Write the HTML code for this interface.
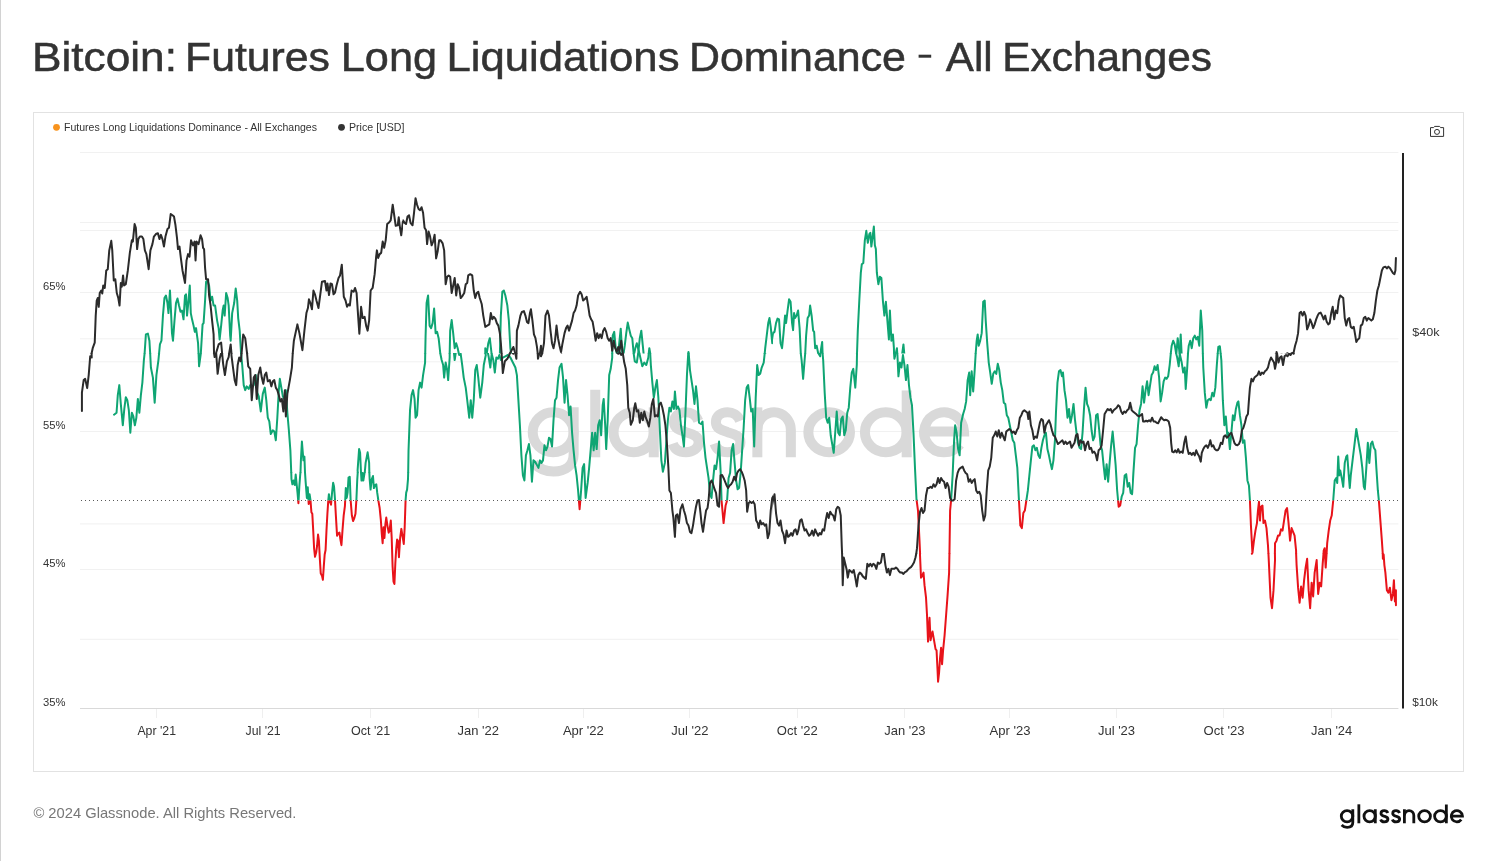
<!DOCTYPE html><html><head><meta charset="utf-8"><title>Bitcoin: Futures Long Liquidations Dominance - All Exchanges</title>
<style>html,body{margin:0;padding:0;background:#fff;}body{width:1495px;height:861px;overflow:hidden;font-family:"Liberation Sans",sans-serif;}svg{display:block;font-family:"Liberation Sans",sans-serif;will-change:transform;}</style></head><body>
<svg width="1495" height="861" viewBox="0 0 1495 861">
<defs>
<clipPath id="t0"><rect x="30" y="140" width="373" height="213.5"/></clipPath>
<clipPath id="t1"><rect x="30" y="353" width="253.5" height="213"/><rect x="283" y="353" width="120" height="119.5"/></clipPath>
<clipPath id="t2"><rect x="283" y="472" width="195" height="128"/></clipPath>
<clipPath id="t3"><rect x="402.5" y="140" width="370.5" height="213.5"/></clipPath>
<clipPath id="t4"><rect x="402.5" y="353" width="76" height="119.5"/><rect x="478" y="353" width="295" height="213"/></clipPath>
<clipPath id="t5"><rect x="772.5" y="140" width="360" height="213.5"/></clipPath>
<clipPath id="t6"><rect x="772.5" y="353" width="360" height="200.5"/></clipPath>
<clipPath id="t7"><rect x="772.5" y="553" width="360" height="203"/></clipPath>
<clipPath id="t8"><rect x="1132" y="140" width="363" height="213.5"/></clipPath>
<clipPath id="t9"><rect x="1132" y="353" width="363" height="200.5"/></clipPath>
<clipPath id="t10"><rect x="1132" y="553" width="363" height="203"/></clipPath>
<clipPath id="up"><rect x="0" y="0" width="1495" height="500.5"/></clipPath>
<clipPath id="dn"><rect x="0" y="500.5" width="1495" height="400"/></clipPath>
<g id="logo" fill="none" stroke-width="29" stroke-linecap="butt" stroke-linejoin="round">
<ellipse cx="175.75" cy="219" rx="59.25" ry="58"/>
<path d="M235 147 V283 C235 316 210 333 177 333 C155 333 136 326 120 309"/>
<path d="M297.5 96 V291.6"/>
<ellipse cx="408.75" cy="219" rx="58.25" ry="58"/>
<path d="M467 147 V291.6"/>
<path d="M596,186 C589,168 574,161 560,161 C540,161 526,172 526,190 C526,210 546,214 560,219 C576,224 597,228 597,248 C597,266 580,277 560,277 C542,277 528,270 522,252"/>
<path d="M717,186 C710,168 695,161 681,161 C661,161 647,172 647,190 C647,210 667,214 681,219 C697,224 718,228 718,248 C718,266 701,277 681,277 C663,277 649,270 643,252"/>
<path d="M767 147 V291.6"/>
<path d="M767 212 A48.5 51 0 0 1 864 212 V291.6"/>
<ellipse cx="975" cy="219" rx="60.3" ry="58"/>
<ellipse cx="1139" cy="219" rx="60.5" ry="58"/>
<path d="M1199.5 98 V291.6"/>
<path d="M1251 217 H1365.5 A57.8 58 0 1 0 1353.5 254.7" stroke-linejoin="miter"/>
</g>
</defs>
<rect width="1495" height="861" fill="#fff"/>
<rect x="0" y="0" width="1" height="861" fill="#d2d2d2"/>
<text x="32" y="70.9" font-size="40" fill="#333" stroke="#333" stroke-width="0.5" textLength="145" lengthAdjust="spacingAndGlyphs">Bitcoin:</text>
<text x="185" y="70.9" font-size="40" fill="#333" stroke="#333" stroke-width="0.5" textLength="145" lengthAdjust="spacingAndGlyphs">Futures</text>
<text x="340.8" y="70.9" font-size="40" fill="#333" stroke="#333" stroke-width="0.5" textLength="96.2" lengthAdjust="spacingAndGlyphs">Long</text>
<text x="446.4" y="70.9" font-size="40" fill="#333" stroke="#333" stroke-width="0.5" textLength="233.1" lengthAdjust="spacingAndGlyphs">Liquidations</text>
<text x="688.9" y="70.9" font-size="40" fill="#333" stroke="#333" stroke-width="0.5" textLength="217.1" lengthAdjust="spacingAndGlyphs">Dominance</text>
<text x="945.8" y="70.9" font-size="40" fill="#333" stroke="#333" stroke-width="0.5" textLength="46.8" lengthAdjust="spacingAndGlyphs">All</text>
<text x="1002.3" y="70.9" font-size="40" fill="#333" stroke="#333" stroke-width="0.5" textLength="209.7" lengthAdjust="spacingAndGlyphs">Exchanges</text>
<rect x="918.6" y="54.7" width="12.6" height="3" fill="#333"/>
<rect x="33.5" y="112.5" width="1430" height="659" fill="#fff" stroke="#e2e2e2" stroke-width="1"/>
<circle cx="56.5" cy="127.3" r="3.4" fill="#f8931d"/>
<text x="64" y="130.8" font-size="10.3" fill="#333" textLength="253" lengthAdjust="spacingAndGlyphs">Futures Long Liquidations Dominance - All Exchanges</text>
<circle cx="341.5" cy="127.3" r="3.4" fill="#333"/>
<text x="349" y="130.8" font-size="10.3" fill="#333" textLength="55.5" lengthAdjust="spacingAndGlyphs">Price [USD]</text>
<g fill="none" stroke="#333" stroke-width="1"><path d="M1430.5 127.6 H1433.6 L1434.6 126.4 H1439.6 L1440.6 127.6 H1443.6 V136.4 H1430.5 Z"/><circle cx="1437" cy="131.9" r="2.5"/></g>
<rect x="80" y="152" width="1318.4" height="1" fill="#f1f1f1"/>
<rect x="80" y="222" width="1318.4" height="1" fill="#f1f1f1"/>
<rect x="80" y="230" width="1318.4" height="1" fill="#f1f1f1"/>
<rect x="80" y="292" width="1318.4" height="1" fill="#f1f1f1"/>
<rect x="80" y="338.3" width="1318.4" height="1" fill="#f1f1f1"/>
<rect x="80" y="361.3" width="1318.4" height="1" fill="#f1f1f1"/>
<rect x="80" y="431" width="1318.4" height="1" fill="#f1f1f1"/>
<rect x="80" y="523.4" width="1318.4" height="1" fill="#f1f1f1"/>
<rect x="80" y="569" width="1318.4" height="1" fill="#f1f1f1"/>
<rect x="80" y="638.8" width="1318.4" height="1" fill="#f1f1f1"/>
<rect x="80" y="708" width="1318.4" height="1" fill="#d9d9d9"/>
<line x1="81" y1="500.5" x2="1398" y2="500.5" stroke="#5a5a5a" stroke-width="1" stroke-dasharray="1 3"/>
<rect x="156" y="709" width="1" height="9" fill="#efefef"/>
<text x="137.4" y="735" font-size="12.2" fill="#333" textLength="38.6" lengthAdjust="spacingAndGlyphs">Apr '21</text>
<rect x="262" y="709" width="1" height="9" fill="#efefef"/>
<text x="245.55" y="735" font-size="12.2" fill="#333" textLength="35.1" lengthAdjust="spacingAndGlyphs">Jul '21</text>
<rect x="370" y="709" width="1" height="9" fill="#efefef"/>
<text x="350.9" y="735" font-size="12.2" fill="#333" textLength="39.4" lengthAdjust="spacingAndGlyphs">Oct '21</text>
<rect x="478" y="709" width="1" height="9" fill="#efefef"/>
<text x="457.5" y="735" font-size="12.2" fill="#333" textLength="41.4" lengthAdjust="spacingAndGlyphs">Jan '22</text>
<rect x="583" y="709" width="1" height="9" fill="#efefef"/>
<text x="562.9" y="735" font-size="12.2" fill="#333" textLength="41" lengthAdjust="spacingAndGlyphs">Apr '22</text>
<rect x="689" y="709" width="1" height="9" fill="#efefef"/>
<text x="671.2" y="735" font-size="12.2" fill="#333" textLength="37.2" lengthAdjust="spacingAndGlyphs">Jul '22</text>
<rect x="797" y="709" width="1" height="9" fill="#efefef"/>
<text x="776.85" y="735" font-size="12.2" fill="#333" textLength="40.9" lengthAdjust="spacingAndGlyphs">Oct '22</text>
<rect x="904" y="709" width="1" height="9" fill="#efefef"/>
<text x="884.2" y="735" font-size="12.2" fill="#333" textLength="41.4" lengthAdjust="spacingAndGlyphs">Jan '23</text>
<rect x="1009" y="709" width="1" height="9" fill="#efefef"/>
<text x="989.6" y="735" font-size="12.2" fill="#333" textLength="41" lengthAdjust="spacingAndGlyphs">Apr '23</text>
<rect x="1116" y="709" width="1" height="9" fill="#efefef"/>
<text x="1097.9" y="735" font-size="12.2" fill="#333" textLength="37.2" lengthAdjust="spacingAndGlyphs">Jul '23</text>
<rect x="1223" y="709" width="1" height="9" fill="#efefef"/>
<text x="1203.5" y="735" font-size="12.2" fill="#333" textLength="41" lengthAdjust="spacingAndGlyphs">Oct '23</text>
<rect x="1331" y="709" width="1" height="9" fill="#efefef"/>
<text x="1311" y="735" font-size="12.2" fill="#333" textLength="41.2" lengthAdjust="spacingAndGlyphs">Jan '24</text>
<text x="43" y="290" font-size="11.3" fill="#333" textLength="22.5" lengthAdjust="spacingAndGlyphs">65%</text>
<text x="43" y="429" font-size="11.3" fill="#333" textLength="22.5" lengthAdjust="spacingAndGlyphs">55%</text>
<text x="43" y="567" font-size="11.3" fill="#333" textLength="22.5" lengthAdjust="spacingAndGlyphs">45%</text>
<text x="43" y="706" font-size="11.3" fill="#333" textLength="22.5" lengthAdjust="spacingAndGlyphs">35%</text>
<text x="1412.2" y="336" font-size="11.3" fill="#333" textLength="27.3" lengthAdjust="spacingAndGlyphs">$40k</text>
<text x="1412.2" y="706" font-size="11.3" fill="#333" textLength="25.7" lengthAdjust="spacingAndGlyphs">$10k</text>
<use href="#logo" stroke="#d9d9d9" transform="translate(492.5,356.6) scale(0.3453)"/>
<g clip-path="url(#up)"><g fill="none" stroke="#0fa573" stroke-width="2" stroke-linejoin="round" stroke-linecap="round"><g clip-path="url(#t0)"><polyline points="144.13,355.72 144.62,353.25 145.89,334.40 147.89,333.65 149.40,340.67 150.17,353.25 150.90,355.72"/><polyline points="157.93,355.72 159.08,353.25 159.93,344.43 161.44,340.67 162.94,315.59 164.45,298.03 165.95,295.52 167.46,303.04 168.46,313.08 169.97,290.50 170.97,310.57 171.97,333.14 172.98,340.67 174.48,320.60 175.99,303.04 177.49,298.53 179.00,305.55 180.50,311.82 182.01,310.57 183.51,319.35 185.02,295.52 186.02,294.26 187.02,315.59 188.53,300.54 189.78,285.48 190.79,313.08 192.04,319.35 193.55,325.62 194.80,331.89 196.05,328.13 198.06,343.18 198.56,353.25 199.57,355.72"/><polyline points="201.07,355.72 200.84,353.25 202.58,324.36 203.58,323.11 205.08,300.54 206.09,281.72 207.59,280.47 209.10,285.48 210.60,300.54 212.11,296.77 213.61,305.55 215.12,305.55 217.12,320.60 218.63,328.13 219.63,339.41 221.14,325.62 222.64,310.57 223.65,305.55 224.65,315.59 226.15,293.01 227.66,298.03 228.66,305.55 230.17,335.65 230.67,340.67 232.17,313.08 234.18,303.04 235.69,288.49 237.19,300.54 238.19,318.09 239.70,330.64 241.04,353.25 241.20,355.72"/></g><g clip-path="url(#t1)"><polyline points="114.03,414.72 116.54,412.71 117.79,395.15 119.30,385.12 120.80,403.93 122.81,425.25 124.31,408.95 125.82,397.16 127.32,400.17 128.83,410.20 130.33,432.78 131.84,412.71 133.34,416.47 134.85,425.25 136.35,417.73 137.86,398.91 139.36,412.71 140.87,395.15 142.37,382.61 143.88,360.03 144.62,353.25 145.38,350.00"/><polyline points="149.40,350.00 150.17,353.25 150.90,367.56 152.91,377.59 154.67,402.68 156.42,375.08 158.43,360.03 159.08,353.25 160.43,350.00"/><polyline points="197.56,350.00 198.56,353.25 199.06,366.30 200.84,353.25 200.57,352.51 201.57,350.00"/><polyline points="240.70,350.00 241.04,353.25 242.21,365.05 243.71,385.12 245.22,390.13 246.72,386.37 248.73,388.88 250.23,385.12 251.74,387.63 253.75,385.12 255.75,375.08 257.26,392.64 258.76,396.40 260.77,411.45 262.78,393.90 264.78,387.63 266.29,400.17 267.79,417.73 269.30,421.49 270.80,434.03 272.81,430.27 274.31,431.52 275.82,440.30 277.32,417.73 278.83,390.13 279.83,378.85 281.34,387.63 282.84,396.40 284.35,398.91 285.85,390.13 287.36,412.71 288.86,430.27 290.37,450.33 291.24,472.25 291.87,475.42 292.88,482.94 294.38,474.16 295.89,486.71 297.89,500.50 298.39,503.01 299.40,490.47 300.50,472.25 300.90,460.37 301.91,441.56 303.41,460.37 304.41,456.61 304.99,472.25 305.92,482.94 306.92,495.48 307.93,486.71 308.93,497.99 309.93,494.23 310.43,500.50 311.94,510.54 312.94,514.30 314.45,543.14 315.45,555.69 316.96,540.64 318.46,534.36 319.97,550.67 320.97,565.72"/><polyline points="322.98,565.72 324.48,550.67 325.99,525.59 327.49,505.52 328.49,494.23 330.00,500.50 331.00,497.99 332.01,491.72 333.51,482.94 335.02,492.98 336.02,505.52 337.53,534.36 339.03,531.86 340.54,539.38 341.54,544.40 343.04,530.60 344.55,510.54 346.05,490.47 347.06,486.71 348.06,492.98 349.06,477.42 350.07,479.18 351.07,510.54 352.58,520.57 353.58,521.82 355.08,515.55 356.59,500.50 357.75,472.25 357.59,470.40 359.10,449.08 360.10,452.84 360.98,472.25 361.61,480.43 363.11,472.91 364.11,480.43 364.79,472.25 365.62,462.88 367.63,452.34 369.13,462.88 369.32,472.25 370.64,489.21 372.14,475.42 373.65,484.20 375.15,486.71 376.15,485.45 377.66,500.50 379.16,508.03 380.67,520.57 382.17,541.89 383.68,525.59 384.68,538.13 386.19,516.81 387.69,530.60 389.20,533.11 390.70,520.57 392.21,550.67 393.71,565.72"/><polyline points="395.22,565.72 396.72,540.64 398.23,556.94 399.73,540.64 401.24,529.35 402.74,543.14 404.25,497.99 405.00,490.47"/></g><g clip-path="url(#t2)"><polyline points="290.57,470.00 291.24,472.25 291.47,479.06 292.38,484.34 293.58,480.57 294.79,485.09 295.70,474.53 296.60,483.58 297.51,492.64 298.42,503.21 299.32,486.60 300.23,474.53 300.50,472.25 301.13,470.00"/><polyline points="304.45,470.00 304.99,472.25 305.66,482.08 306.87,497.92 307.77,487.36 308.68,503.96 309.58,494.15 310.49,500.19 311.40,512.26 312.30,513.77 313.21,530.38 314.11,548.49 315.02,556.79 316.23,552.26 317.13,545.47 318.04,534.60 318.94,540.94 319.85,559.06 320.75,573.40 321.96,575.66 322.87,579.89 323.77,566.60 324.68,554.53 325.58,550.00 326.49,530.38 327.40,513.77 328.30,500.19 328.91,494.15 329.81,500.94 331.02,504.72 331.92,494.15 333.13,482.83 334.04,486.60 334.94,498.68 335.85,515.28 337.06,535.66 338.26,533.40 339.47,532.64 340.38,539.43 341.43,545.17 342.49,530.38 343.70,515.28 344.91,506.23 345.81,488.11 346.72,497.92 347.62,492.64 348.53,477.55 349.74,476.79 350.64,500.19 351.85,515.28 353.06,521.02 354.26,518.30 355.47,513.77 356.38,500.19 357.28,479.06 357.75,472.25 358.19,470.00"/><polyline points="360.60,470.00 360.98,472.25 361.51,480.57 362.42,473.02 363.32,480.57 364.53,473.02 364.79,472.25 365.43,470.00"/><polyline points="368.75,470.00 369.32,472.25 369.66,479.06 370.57,489.62 371.77,479.06 372.98,476.04 373.89,488.11 375.09,485.09 376.30,484.34 377.21,492.64 378.42,500.94 379.62,507.74 380.83,519.81 381.74,533.40 382.64,543.21 383.55,527.36 384.45,537.92 385.36,524.34 386.26,517.55 387.47,525.85 388.68,532.64 389.58,530.38 390.79,520.57 391.70,537.92 392.60,566.60 393.51,581.70 394.42,583.96 395.32,563.58 396.23,548.49 397.13,539.43 398.04,540.94 398.94,557.25 400.15,537.92 401.36,528.87 402.57,536.42 403.77,543.96 404.68,527.36 405.58,500.19 406.19,492.64 407.09,489.62 408.00,479.06 408.19,472.25 408.91,470.00"/></g><g clip-path="url(#t3)"><polyline points="424.08,355.72 425.23,353.25 425.59,335.65 426.59,303.04 428.09,295.52 429.60,325.62 431.10,328.13 432.61,323.11 434.11,308.56 435.62,333.14 437.12,331.89 438.63,338.16 440.27,353.25 440.13,355.72"/><polyline points="448.66,355.72 449.67,353.25 450.17,330.64 451.67,320.10 453.18,333.14 454.68,348.19 456.19,343.18 457.69,348.19 458.77,353.25 459.20,355.72"/><polyline points="483.78,355.72 485.29,353.25 485.28,348.19 486.79,353.21 488.29,343.18 489.80,338.16 491.52,353.25 491.30,355.72"/><polyline points="499.83,355.72 500.84,315.59 502.34,291.76 503.85,290.50 505.35,295.52 507.36,305.55 508.86,320.60 510.37,348.19 511.37,355.72"/><polyline points="611.20,355.72 612.23,353.25 612.71,335.65 614.21,331.89 615.72,348.19 617.22,355.72"/><polyline points="617.22,355.72 618.73,348.19 620.74,328.63 622.24,353.21 623.24,355.72"/><polyline points="623.24,355.72 624.75,345.69 626.25,333.14 627.76,322.61 629.26,329.38 630.77,335.65 632.27,338.16 633.64,353.25 633.78,355.72"/><polyline points="633.78,355.72 635.28,348.19 636.79,343.18 639.35,353.25 638.29,355.72"/><polyline points="638.29,355.72 638.21,353.25 639.80,338.16 641.30,330.64 642.81,345.69 643.81,355.72"/><polyline points="647.83,355.72 648.75,353.25 649.33,348.19 650.20,353.25 650.84,355.72"/><polyline points="687.46,355.72 688.23,353.25 688.46,351.96 688.71,353.25 689.46,355.72"/><polyline points="763.21,355.72 764.72,353.25 765.22,348.19 766.72,335.65 768.23,323.11 769.48,318.09 770.74,326.87 772.24,343.18 773.75,331.89 775.00,331.14"/></g><g clip-path="url(#t4)"><polyline points="400.00,530.60 401.51,528.09 403.01,543.14 404.52,520.57 405.52,500.50 407.02,490.47 408.19,472.25 408.53,450.33 410.03,410.20 411.54,395.15 413.04,390.13 414.55,398.91 415.55,417.73 417.06,415.22 418.56,390.13 420.07,382.61 421.57,387.63 423.08,375.08 425.08,362.54 425.23,353.25 426.59,350.00"/><polyline points="440.13,350.00 440.27,353.25 441.64,360.03 443.14,365.05 444.15,377.59 445.65,362.54 447.16,370.07 448.16,380.10 449.67,357.53 449.67,353.25 451.17,350.00"/><polyline points="453.68,350.00 454.68,360.03 456.19,350.00"/><polyline points="458.19,350.00 458.77,353.25 459.20,355.02 460.70,353.76 462.21,365.05 463.71,377.59 465.72,387.63 467.22,400.17 469.23,417.73 470.74,400.17 472.24,417.73 473.75,400.17 475.25,370.07 476.76,365.05 478.26,377.59 480.27,397.66 482.27,382.61 483.78,365.05 485.79,355.02 485.29,353.25 487.29,350.00"/><polyline points="487.29,350.00 488.80,357.53 490.30,367.56 491.81,352.51 491.52,353.25 493.31,360.03 494.82,372.58 496.32,357.53 497.83,358.78 499.33,355.02 500.84,360.03 502.84,357.53 505.35,356.27 507.86,355.02 510.37,357.53 512.88,362.54 515.38,367.56 516.89,375.08 518.39,400.17 519.90,425.25 521.40,455.35 522.91,475.42 524.41,480.43 525.92,455.35 527.42,450.33 528.93,444.06 530.43,455.35 531.94,481.69 533.44,460.37 534.95,461.62 536.45,464.13 538.46,467.89 539.97,460.37 541.47,462.88 542.98,460.37 544.48,445.32 545.99,450.33 547.49,446.57 549.00,437.79 550.50,439.05 552.01,446.57 553.51,420.23 555.02,400.17 556.52,397.66 558.03,380.10 559.53,367.56 561.54,363.80 563.04,377.59 564.55,402.68 566.05,380.10 567.56,395.15 569.06,415.22 570.57,406.44 572.07,432.78 573.58,450.33 575.08,465.38 576.59,475.42 578.09,490.47 579.60,509.28 581.10,490.47 582.61,467.89 584.11,464.13 585.62,497.99 587.63,482.94 589.13,467.89 590.64,450.33 592.14,432.78 593.65,450.33 595.15,432.78 596.66,449.08 598.16,425.25 599.67,420.23 601.17,435.28 602.68,405.18 603.68,398.91 605.18,425.25 606.19,449.08 607.69,420.23 609.20,375.08 610.70,368.81 612.21,357.53 612.23,353.25 613.71,350.00"/><polyline points="633.28,350.00 633.64,353.25 634.78,361.29 636.79,362.54 638.21,353.25 638.29,350.00"/><polyline points="640.30,350.00 639.35,353.25 642.31,366.30 644.31,362.54 646.32,365.05 648.33,357.53 648.75,353.25 649.83,350.00"/><polyline points="649.83,350.00 650.20,353.25 650.84,365.05 652.34,382.61 653.85,397.66 655.35,387.63 656.86,380.10 658.36,397.66 659.87,430.27 661.37,460.37 662.88,471.66 664.88,462.88 666.39,440.30 667.89,420.23 669.40,407.69 670.90,411.45 672.41,401.42 673.91,408.95 674.92,391.39 676.42,408.95 677.93,406.44 679.43,410.20 680.94,425.25 682.44,435.28 683.95,446.57 685.45,412.71 686.96,375.08 688.23,353.25 688.46,351.25 688.71,353.25 689.97,370.07 691.47,380.10 692.98,390.13 694.48,403.93 695.99,386.37 697.49,400.17 699.00,422.74 701.00,424.00 702.51,421.49 704.01,442.81 705.52,457.86 707.02,467.89 708.53,477.93 710.03,494.23 711.54,497.99 713.04,480.43 714.55,465.38 716.05,469.15 717.56,457.86 719.06,441.56 720.57,470.40 721.57,500.50 723.58,523.08 725.59,505.52 727.09,500.50 728.60,477.93 730.10,472.91 731.61,450.33 733.11,444.06 734.62,462.88 736.12,480.43 737.63,489.21 739.13,487.96 740.64,472.91 742.14,450.33 743.65,427.76 745.15,400.17 746.66,387.63 748.16,385.12 749.67,397.66 751.17,411.45 752.68,408.95 754.18,446.57 755.69,397.66 757.19,365.05 758.70,375.08 760.20,373.83 761.71,367.56 763.71,362.54 764.72,353.25 765.72,352.51 766.72,350.00"/></g><g clip-path="url(#t5)"><polyline points="770.00,318.09 771.51,343.18 773.01,333.14 774.52,331.89 776.02,323.11 777.53,318.60 779.03,319.35 780.54,343.18 782.04,348.19 783.55,333.14 785.05,315.59 786.05,323.11 787.56,310.57 789.06,299.28 790.57,301.79 792.07,323.11 793.08,330.13 794.08,313.08 795.08,318.09 796.59,315.59 798.09,310.57 799.60,328.13 800.78,353.25 801.10,355.72"/><polyline points="804.62,355.72 805.22,353.25 806.12,335.65 807.63,318.09 809.13,315.59 810.13,305.55 811.64,315.59 813.14,330.64 814.15,331.89 815.15,348.19 816.66,345.69 818.16,353.21 818.32,353.25 819.67,355.72"/><polyline points="819.67,355.72 820.53,353.25 821.17,348.19 822.17,341.92 822.58,353.25 823.18,355.72"/><polyline points="856.29,355.72 857.01,353.25 857.79,330.64 859.30,300.54 860.80,272.94 861.81,264.16 863.31,262.91 864.82,240.33 866.32,230.80 867.83,242.84 869.33,234.06 870.33,232.81 871.34,246.61 872.34,239.08 873.85,226.54 874.85,245.35 875.85,249.11 876.86,272.94 878.36,284.23 879.87,276.71 881.37,277.96 882.88,300.54 884.38,315.59 885.89,301.79 887.39,320.60 888.90,339.41 889.90,310.57 891.40,340.67 892.91,334.40 893.91,348.19 894.03,353.25 894.92,355.72"/><polyline points="895.92,355.72 895.81,353.25 896.92,348.19 897.25,353.25 897.93,355.72"/><polyline points="901.94,355.72 903.44,344.43 904.45,355.72"/><polyline points="975.18,355.72 975.69,353.25 976.69,340.67 977.69,334.40 978.70,345.69 980.20,340.67 981.71,333.14 983.21,301.79 984.72,300.54 985.72,320.60 987.22,343.18 988.02,353.25 988.73,355.72"/></g><g clip-path="url(#t6)"><polyline points="800.10,350.00 800.78,353.25 801.61,360.03 803.11,378.85 804.62,360.03 805.22,353.25 806.12,350.00"/><polyline points="817.16,350.00 818.32,353.25 818.66,353.76 820.17,356.27 820.53,353.25 821.67,350.00"/><polyline points="821.67,350.00 822.58,353.25 823.18,360.03 824.68,392.64 826.19,417.73 827.69,422.74 829.20,417.73 830.70,435.28 832.21,444.06 833.71,452.84 835.22,432.78 836.72,411.45 838.23,432.78 839.73,435.28 841.24,418.98 842.74,416.47 844.25,435.28 845.75,430.27 847.26,412.71 848.76,407.69 850.27,387.63 851.77,372.58 853.28,368.81 855.28,387.63 856.79,365.05 857.01,353.25 857.79,350.00"/><polyline points="892.91,350.00 894.03,353.25 894.41,358.78 895.81,353.25 895.92,350.00"/><polyline points="895.92,350.00 897.25,353.25 897.42,355.02 898.43,376.34 899.93,362.54 901.44,367.56 902.94,355.02 904.45,365.05 905.95,380.10 907.46,365.05 908.96,385.12 910.47,397.66 911.97,405.18 913.48,432.78 914.98,467.89 916.49,499.25 917.99,510.54 919.50,540.64 920.07,553.25 921.00,565.72"/><polyline points="948.60,565.72 949.45,553.25 950.10,510.54 951.10,500.50 952.61,475.42 954.11,440.30 955.12,425.25 956.62,432.78 958.13,449.08 959.63,455.35 961.14,422.74 963.14,413.96 964.65,408.95 966.15,401.42 967.66,380.10 969.16,372.58 970.17,395.15 971.67,371.32 973.18,391.39 974.68,370.07 975.69,353.25 976.19,350.00"/><polyline points="987.22,350.00 988.02,353.25 988.73,362.54 990.23,372.58 991.74,383.86 993.24,373.83 994.75,371.32 996.25,373.83 997.76,363.80 999.26,370.07 1000.77,382.61 1002.27,390.13 1003.78,402.68 1005.28,403.93 1006.79,415.22 1008.29,417.73 1009.80,425.25 1011.30,432.78 1012.81,440.30 1014.31,442.81 1015.82,455.35 1017.32,467.89 1018.83,497.99 1020.33,525.59 1021.84,528.09 1023.34,513.04 1024.85,510.54 1026.35,500.50 1027.86,490.47 1029.36,475.42 1030.87,460.37 1032.37,446.57 1033.88,445.32 1035.38,450.33 1036.89,447.83 1038.39,455.35 1039.90,457.86 1041.40,447.83 1042.91,440.30 1044.41,435.28 1045.92,432.78 1047.42,449.08 1048.93,455.35 1050.43,462.88 1051.94,469.15 1053.44,460.37 1054.95,440.30 1055.95,412.71 1057.46,382.61 1058.96,371.32 1060.47,370.07 1061.97,376.34 1062.98,372.58 1064.48,390.13 1065.99,400.17 1067.49,417.73 1069.00,408.95 1070.50,422.74 1072.01,415.22 1073.51,403.93 1075.02,420.23 1076.52,432.78 1078.03,442.81 1079.53,447.83 1081.04,449.08 1082.54,432.78 1084.05,407.69 1085.55,387.63 1087.06,403.93 1088.56,407.69 1090.07,415.22 1091.57,430.27 1093.08,440.30 1094.58,436.54 1096.09,415.22 1097.59,413.96 1099.10,429.01 1100.60,445.32 1102.11,450.33 1103.61,465.38 1105.12,479.18 1106.62,464.13 1108.13,481.69 1109.63,462.88 1111.14,445.32 1112.64,431.52 1114.15,447.83 1115.65,465.38 1117.16,490.47 1118.66,506.77 1120.17,505.52 1121.67,496.74 1123.18,492.98 1124.68,475.42 1126.19,474.16 1127.69,486.71 1129.20,482.94 1130.70,492.98 1132.21,494.23 1132.25,492.30 1133.71,475.42 1135.22,445.32 1136.72,442.81 1138.23,420.23 1139.73,410.20 1141.24,397.66 1142.74,386.37 1144.25,387.63 1145.00,407.69"/></g><g clip-path="url(#t7)"><polyline points="919.00,540.00 920.07,553.25 920.00,555.05 921.00,577.63 922.01,576.37 923.51,572.61 924.52,585.15 926.02,597.69 927.02,615.25 928.03,641.59 929.53,617.76 930.54,640.33 931.54,635.32 932.54,631.56 934.05,640.33 935.55,649.11 936.56,650.37 937.56,670.43 938.06,681.72 939.06,672.94 940.07,657.89 941.07,647.86 942.07,664.16 943.08,650.37 944.58,635.32 946.09,615.25 947.59,595.18 949.10,572.61 949.45,553.25 950.10,550.03 950.60,540.00"/></g><g clip-path="url(#t8)"><polyline points="1170.17,355.72 1170.81,353.25 1171.67,345.69 1173.18,340.67 1174.68,344.43 1176.10,353.25 1176.19,355.72"/><polyline points="1176.19,355.72 1177.69,338.16 1179.65,353.25 1179.20,355.72"/><polyline points="1179.20,355.72 1179.75,353.25 1180.70,334.40 1181.71,355.72"/><polyline points="1187.22,355.72 1188.02,353.25 1188.73,345.69 1190.23,340.67 1191.74,348.19 1193.24,338.16 1194.75,335.65 1196.25,339.41 1197.76,336.91 1199.26,345.69 1200.77,310.57 1202.27,330.64 1202.84,353.25 1203.78,355.72"/><polyline points="1216.82,355.72 1217.74,353.25 1218.33,346.94 1219.83,346.19 1220.63,353.25 1221.34,355.72"/></g><g clip-path="url(#t9)"><polyline points="1120.00,503.01 1120.75,500.50 1121.51,492.98 1123.01,486.71 1124.52,477.93 1126.02,474.16 1127.53,482.94 1129.03,485.45 1130.54,492.98 1132.04,494.23 1132.25,492.30 1133.55,470.40 1135.05,447.83 1136.56,444.06 1138.06,425.25 1139.57,410.20 1141.07,403.93 1142.58,386.37 1144.08,402.68 1145.59,390.13 1147.09,381.35 1148.60,395.15 1150.10,385.12 1151.61,375.08 1153.11,372.58 1154.62,366.30 1156.12,370.07 1157.63,365.05 1159.13,377.59 1160.64,401.42 1162.14,392.64 1163.65,381.35 1165.15,377.59 1166.66,378.85 1168.16,376.34 1169.67,365.05 1170.81,353.25 1171.17,352.51 1172.68,350.00"/><polyline points="1175.69,350.00 1176.10,353.25 1177.19,357.53 1178.70,366.30 1179.75,353.25 1180.20,352.51 1179.65,353.25 1181.71,362.54 1183.21,372.58 1184.72,367.56 1185.72,388.88 1187.22,367.56 1188.02,353.25 1188.73,350.00"/><polyline points="1201.77,350.00 1202.84,353.25 1203.28,367.56 1204.78,392.64 1206.29,407.69 1207.79,400.17 1209.30,398.91 1210.80,400.17 1212.31,392.64 1213.81,396.40 1215.32,387.63 1216.82,365.05 1217.74,353.25 1218.33,352.51 1219.83,350.00"/><polyline points="1219.83,350.00 1220.63,353.25 1221.34,360.03 1222.84,400.17 1224.35,425.25 1225.85,416.47 1227.36,436.54 1228.36,432.78 1229.87,449.08 1231.37,432.78 1232.88,415.22 1234.38,420.23 1235.89,408.95 1237.39,402.68 1238.39,401.42 1239.90,415.22 1241.40,425.25 1242.91,442.81 1244.41,440.30 1245.92,457.86 1247.42,480.43 1248.93,485.45 1249.93,500.50 1250.94,525.59 1252.44,553.18 1253.95,540.64 1255.45,530.60 1256.96,523.08 1257.96,510.54 1258.96,501.76 1259.97,520.57 1260.97,506.77 1262.47,505.52 1263.48,523.08 1264.98,520.57 1266.49,528.09 1267.99,545.65 1268.42,553.25 1269.50,565.72"/><polyline points="1273.51,565.72 1274.91,553.25 1275.02,543.14 1276.52,540.64 1278.03,535.62 1279.53,535.62 1281.04,529.35 1282.54,530.60 1284.05,520.57 1285.55,510.54 1287.06,508.03 1288.56,523.08 1290.07,540.64 1291.57,528.09 1293.08,531.86 1294.58,535.62 1296.09,550.67 1296.11,553.25 1297.59,565.72"/><polyline points="1305.62,565.72 1307.12,559.45 1308.13,565.72"/><polyline points="1315.65,565.72 1316.66,560.70 1317.66,565.72"/><polyline points="1322.17,565.72 1323.54,553.25 1323.68,550.67 1324.68,548.16 1324.85,553.25 1325.69,560.70 1326.62,553.25 1327.19,543.14 1328.70,530.60 1330.20,520.57 1331.71,515.55 1333.21,500.50 1334.72,480.43 1336.22,477.93 1337.22,482.94 1338.23,456.61 1339.23,475.42 1340.23,470.40 1341.74,477.93 1343.24,486.71 1344.75,462.88 1346.25,456.61 1347.26,455.35 1348.76,475.42 1349.77,487.96 1350.77,475.42 1352.27,462.88 1353.78,450.33 1355.28,437.79 1356.29,429.01 1357.79,437.79 1359.30,446.57 1360.80,455.35 1362.31,467.89 1363.81,486.71 1364.82,489.21 1366.32,467.89 1367.83,442.81 1369.33,462.88 1370.84,444.06 1372.34,441.56 1373.85,447.83 1375.35,450.33 1376.35,467.89 1377.86,490.47 1378.86,500.50 1380.37,520.57 1381.87,540.64 1382.73,553.25 1383.13,554.43 1383.88,565.72"/></g><g clip-path="url(#t10)"><polyline points="1250.43,540.00 1251.94,553.80 1253.44,545.02 1254.45,540.00"/><polyline points="1267.49,540.00 1268.42,553.25 1269.00,565.08 1270.50,597.69 1272.01,608.23 1273.51,590.17 1275.02,560.07 1274.91,553.25 1276.02,545.02 1277.02,540.00"/><polyline points="1288.56,540.00 1289.57,542.51 1290.57,540.00"/><polyline points="1295.08,540.00 1296.11,553.25 1296.59,565.08 1298.09,587.66 1299.60,602.71 1301.10,586.40 1302.61,597.69 1304.11,580.13 1305.62,567.59 1307.12,558.81 1308.63,590.17 1310.13,608.23 1311.64,582.64 1313.14,596.44 1314.65,572.61 1316.66,560.07 1318.16,593.93 1319.67,582.64 1321.17,586.40 1322.68,563.83 1323.54,553.25 1324.18,547.53 1324.85,553.25 1325.69,567.59 1326.62,553.25 1327.19,550.03 1328.70,540.00"/><polyline points="1380.87,540.00 1382.37,552.54 1382.73,553.25 1382.88,558.81 1383.63,554.55 1384.38,565.08 1385.38,572.61 1386.89,590.17 1388.39,592.68 1389.90,587.66 1391.40,600.20 1392.91,593.93 1393.91,580.13 1394.92,601.45 1395.92,590.17 1395.92,605.22"/></g></g></g>
<g clip-path="url(#dn)"><g fill="none" stroke="#e8131a" stroke-width="2" stroke-linejoin="round" stroke-linecap="round"><g clip-path="url(#t0)"><polyline points="144.13,355.72 144.62,353.25 145.89,334.40 147.89,333.65 149.40,340.67 150.17,353.25 150.90,355.72"/><polyline points="157.93,355.72 159.08,353.25 159.93,344.43 161.44,340.67 162.94,315.59 164.45,298.03 165.95,295.52 167.46,303.04 168.46,313.08 169.97,290.50 170.97,310.57 171.97,333.14 172.98,340.67 174.48,320.60 175.99,303.04 177.49,298.53 179.00,305.55 180.50,311.82 182.01,310.57 183.51,319.35 185.02,295.52 186.02,294.26 187.02,315.59 188.53,300.54 189.78,285.48 190.79,313.08 192.04,319.35 193.55,325.62 194.80,331.89 196.05,328.13 198.06,343.18 198.56,353.25 199.57,355.72"/><polyline points="201.07,355.72 200.84,353.25 202.58,324.36 203.58,323.11 205.08,300.54 206.09,281.72 207.59,280.47 209.10,285.48 210.60,300.54 212.11,296.77 213.61,305.55 215.12,305.55 217.12,320.60 218.63,328.13 219.63,339.41 221.14,325.62 222.64,310.57 223.65,305.55 224.65,315.59 226.15,293.01 227.66,298.03 228.66,305.55 230.17,335.65 230.67,340.67 232.17,313.08 234.18,303.04 235.69,288.49 237.19,300.54 238.19,318.09 239.70,330.64 241.04,353.25 241.20,355.72"/></g><g clip-path="url(#t1)"><polyline points="114.03,414.72 116.54,412.71 117.79,395.15 119.30,385.12 120.80,403.93 122.81,425.25 124.31,408.95 125.82,397.16 127.32,400.17 128.83,410.20 130.33,432.78 131.84,412.71 133.34,416.47 134.85,425.25 136.35,417.73 137.86,398.91 139.36,412.71 140.87,395.15 142.37,382.61 143.88,360.03 144.62,353.25 145.38,350.00"/><polyline points="149.40,350.00 150.17,353.25 150.90,367.56 152.91,377.59 154.67,402.68 156.42,375.08 158.43,360.03 159.08,353.25 160.43,350.00"/><polyline points="197.56,350.00 198.56,353.25 199.06,366.30 200.84,353.25 200.57,352.51 201.57,350.00"/><polyline points="240.70,350.00 241.04,353.25 242.21,365.05 243.71,385.12 245.22,390.13 246.72,386.37 248.73,388.88 250.23,385.12 251.74,387.63 253.75,385.12 255.75,375.08 257.26,392.64 258.76,396.40 260.77,411.45 262.78,393.90 264.78,387.63 266.29,400.17 267.79,417.73 269.30,421.49 270.80,434.03 272.81,430.27 274.31,431.52 275.82,440.30 277.32,417.73 278.83,390.13 279.83,378.85 281.34,387.63 282.84,396.40 284.35,398.91 285.85,390.13 287.36,412.71 288.86,430.27 290.37,450.33 291.24,472.25 291.87,475.42 292.88,482.94 294.38,474.16 295.89,486.71 297.89,500.50 298.39,503.01 299.40,490.47 300.50,472.25 300.90,460.37 301.91,441.56 303.41,460.37 304.41,456.61 304.99,472.25 305.92,482.94 306.92,495.48 307.93,486.71 308.93,497.99 309.93,494.23 310.43,500.50 311.94,510.54 312.94,514.30 314.45,543.14 315.45,555.69 316.96,540.64 318.46,534.36 319.97,550.67 320.97,565.72"/><polyline points="322.98,565.72 324.48,550.67 325.99,525.59 327.49,505.52 328.49,494.23 330.00,500.50 331.00,497.99 332.01,491.72 333.51,482.94 335.02,492.98 336.02,505.52 337.53,534.36 339.03,531.86 340.54,539.38 341.54,544.40 343.04,530.60 344.55,510.54 346.05,490.47 347.06,486.71 348.06,492.98 349.06,477.42 350.07,479.18 351.07,510.54 352.58,520.57 353.58,521.82 355.08,515.55 356.59,500.50 357.75,472.25 357.59,470.40 359.10,449.08 360.10,452.84 360.98,472.25 361.61,480.43 363.11,472.91 364.11,480.43 364.79,472.25 365.62,462.88 367.63,452.34 369.13,462.88 369.32,472.25 370.64,489.21 372.14,475.42 373.65,484.20 375.15,486.71 376.15,485.45 377.66,500.50 379.16,508.03 380.67,520.57 382.17,541.89 383.68,525.59 384.68,538.13 386.19,516.81 387.69,530.60 389.20,533.11 390.70,520.57 392.21,550.67 393.71,565.72"/><polyline points="395.22,565.72 396.72,540.64 398.23,556.94 399.73,540.64 401.24,529.35 402.74,543.14 404.25,497.99 405.00,490.47"/></g><g clip-path="url(#t2)"><polyline points="290.57,470.00 291.24,472.25 291.47,479.06 292.38,484.34 293.58,480.57 294.79,485.09 295.70,474.53 296.60,483.58 297.51,492.64 298.42,503.21 299.32,486.60 300.23,474.53 300.50,472.25 301.13,470.00"/><polyline points="304.45,470.00 304.99,472.25 305.66,482.08 306.87,497.92 307.77,487.36 308.68,503.96 309.58,494.15 310.49,500.19 311.40,512.26 312.30,513.77 313.21,530.38 314.11,548.49 315.02,556.79 316.23,552.26 317.13,545.47 318.04,534.60 318.94,540.94 319.85,559.06 320.75,573.40 321.96,575.66 322.87,579.89 323.77,566.60 324.68,554.53 325.58,550.00 326.49,530.38 327.40,513.77 328.30,500.19 328.91,494.15 329.81,500.94 331.02,504.72 331.92,494.15 333.13,482.83 334.04,486.60 334.94,498.68 335.85,515.28 337.06,535.66 338.26,533.40 339.47,532.64 340.38,539.43 341.43,545.17 342.49,530.38 343.70,515.28 344.91,506.23 345.81,488.11 346.72,497.92 347.62,492.64 348.53,477.55 349.74,476.79 350.64,500.19 351.85,515.28 353.06,521.02 354.26,518.30 355.47,513.77 356.38,500.19 357.28,479.06 357.75,472.25 358.19,470.00"/><polyline points="360.60,470.00 360.98,472.25 361.51,480.57 362.42,473.02 363.32,480.57 364.53,473.02 364.79,472.25 365.43,470.00"/><polyline points="368.75,470.00 369.32,472.25 369.66,479.06 370.57,489.62 371.77,479.06 372.98,476.04 373.89,488.11 375.09,485.09 376.30,484.34 377.21,492.64 378.42,500.94 379.62,507.74 380.83,519.81 381.74,533.40 382.64,543.21 383.55,527.36 384.45,537.92 385.36,524.34 386.26,517.55 387.47,525.85 388.68,532.64 389.58,530.38 390.79,520.57 391.70,537.92 392.60,566.60 393.51,581.70 394.42,583.96 395.32,563.58 396.23,548.49 397.13,539.43 398.04,540.94 398.94,557.25 400.15,537.92 401.36,528.87 402.57,536.42 403.77,543.96 404.68,527.36 405.58,500.19 406.19,492.64 407.09,489.62 408.00,479.06 408.19,472.25 408.91,470.00"/></g><g clip-path="url(#t3)"><polyline points="424.08,355.72 425.23,353.25 425.59,335.65 426.59,303.04 428.09,295.52 429.60,325.62 431.10,328.13 432.61,323.11 434.11,308.56 435.62,333.14 437.12,331.89 438.63,338.16 440.27,353.25 440.13,355.72"/><polyline points="448.66,355.72 449.67,353.25 450.17,330.64 451.67,320.10 453.18,333.14 454.68,348.19 456.19,343.18 457.69,348.19 458.77,353.25 459.20,355.72"/><polyline points="483.78,355.72 485.29,353.25 485.28,348.19 486.79,353.21 488.29,343.18 489.80,338.16 491.52,353.25 491.30,355.72"/><polyline points="499.83,355.72 500.84,315.59 502.34,291.76 503.85,290.50 505.35,295.52 507.36,305.55 508.86,320.60 510.37,348.19 511.37,355.72"/><polyline points="611.20,355.72 612.23,353.25 612.71,335.65 614.21,331.89 615.72,348.19 617.22,355.72"/><polyline points="617.22,355.72 618.73,348.19 620.74,328.63 622.24,353.21 623.24,355.72"/><polyline points="623.24,355.72 624.75,345.69 626.25,333.14 627.76,322.61 629.26,329.38 630.77,335.65 632.27,338.16 633.64,353.25 633.78,355.72"/><polyline points="633.78,355.72 635.28,348.19 636.79,343.18 639.35,353.25 638.29,355.72"/><polyline points="638.29,355.72 638.21,353.25 639.80,338.16 641.30,330.64 642.81,345.69 643.81,355.72"/><polyline points="647.83,355.72 648.75,353.25 649.33,348.19 650.20,353.25 650.84,355.72"/><polyline points="687.46,355.72 688.23,353.25 688.46,351.96 688.71,353.25 689.46,355.72"/><polyline points="763.21,355.72 764.72,353.25 765.22,348.19 766.72,335.65 768.23,323.11 769.48,318.09 770.74,326.87 772.24,343.18 773.75,331.89 775.00,331.14"/></g><g clip-path="url(#t4)"><polyline points="400.00,530.60 401.51,528.09 403.01,543.14 404.52,520.57 405.52,500.50 407.02,490.47 408.19,472.25 408.53,450.33 410.03,410.20 411.54,395.15 413.04,390.13 414.55,398.91 415.55,417.73 417.06,415.22 418.56,390.13 420.07,382.61 421.57,387.63 423.08,375.08 425.08,362.54 425.23,353.25 426.59,350.00"/><polyline points="440.13,350.00 440.27,353.25 441.64,360.03 443.14,365.05 444.15,377.59 445.65,362.54 447.16,370.07 448.16,380.10 449.67,357.53 449.67,353.25 451.17,350.00"/><polyline points="453.68,350.00 454.68,360.03 456.19,350.00"/><polyline points="458.19,350.00 458.77,353.25 459.20,355.02 460.70,353.76 462.21,365.05 463.71,377.59 465.72,387.63 467.22,400.17 469.23,417.73 470.74,400.17 472.24,417.73 473.75,400.17 475.25,370.07 476.76,365.05 478.26,377.59 480.27,397.66 482.27,382.61 483.78,365.05 485.79,355.02 485.29,353.25 487.29,350.00"/><polyline points="487.29,350.00 488.80,357.53 490.30,367.56 491.81,352.51 491.52,353.25 493.31,360.03 494.82,372.58 496.32,357.53 497.83,358.78 499.33,355.02 500.84,360.03 502.84,357.53 505.35,356.27 507.86,355.02 510.37,357.53 512.88,362.54 515.38,367.56 516.89,375.08 518.39,400.17 519.90,425.25 521.40,455.35 522.91,475.42 524.41,480.43 525.92,455.35 527.42,450.33 528.93,444.06 530.43,455.35 531.94,481.69 533.44,460.37 534.95,461.62 536.45,464.13 538.46,467.89 539.97,460.37 541.47,462.88 542.98,460.37 544.48,445.32 545.99,450.33 547.49,446.57 549.00,437.79 550.50,439.05 552.01,446.57 553.51,420.23 555.02,400.17 556.52,397.66 558.03,380.10 559.53,367.56 561.54,363.80 563.04,377.59 564.55,402.68 566.05,380.10 567.56,395.15 569.06,415.22 570.57,406.44 572.07,432.78 573.58,450.33 575.08,465.38 576.59,475.42 578.09,490.47 579.60,509.28 581.10,490.47 582.61,467.89 584.11,464.13 585.62,497.99 587.63,482.94 589.13,467.89 590.64,450.33 592.14,432.78 593.65,450.33 595.15,432.78 596.66,449.08 598.16,425.25 599.67,420.23 601.17,435.28 602.68,405.18 603.68,398.91 605.18,425.25 606.19,449.08 607.69,420.23 609.20,375.08 610.70,368.81 612.21,357.53 612.23,353.25 613.71,350.00"/><polyline points="633.28,350.00 633.64,353.25 634.78,361.29 636.79,362.54 638.21,353.25 638.29,350.00"/><polyline points="640.30,350.00 639.35,353.25 642.31,366.30 644.31,362.54 646.32,365.05 648.33,357.53 648.75,353.25 649.83,350.00"/><polyline points="649.83,350.00 650.20,353.25 650.84,365.05 652.34,382.61 653.85,397.66 655.35,387.63 656.86,380.10 658.36,397.66 659.87,430.27 661.37,460.37 662.88,471.66 664.88,462.88 666.39,440.30 667.89,420.23 669.40,407.69 670.90,411.45 672.41,401.42 673.91,408.95 674.92,391.39 676.42,408.95 677.93,406.44 679.43,410.20 680.94,425.25 682.44,435.28 683.95,446.57 685.45,412.71 686.96,375.08 688.23,353.25 688.46,351.25 688.71,353.25 689.97,370.07 691.47,380.10 692.98,390.13 694.48,403.93 695.99,386.37 697.49,400.17 699.00,422.74 701.00,424.00 702.51,421.49 704.01,442.81 705.52,457.86 707.02,467.89 708.53,477.93 710.03,494.23 711.54,497.99 713.04,480.43 714.55,465.38 716.05,469.15 717.56,457.86 719.06,441.56 720.57,470.40 721.57,500.50 723.58,523.08 725.59,505.52 727.09,500.50 728.60,477.93 730.10,472.91 731.61,450.33 733.11,444.06 734.62,462.88 736.12,480.43 737.63,489.21 739.13,487.96 740.64,472.91 742.14,450.33 743.65,427.76 745.15,400.17 746.66,387.63 748.16,385.12 749.67,397.66 751.17,411.45 752.68,408.95 754.18,446.57 755.69,397.66 757.19,365.05 758.70,375.08 760.20,373.83 761.71,367.56 763.71,362.54 764.72,353.25 765.72,352.51 766.72,350.00"/></g><g clip-path="url(#t5)"><polyline points="770.00,318.09 771.51,343.18 773.01,333.14 774.52,331.89 776.02,323.11 777.53,318.60 779.03,319.35 780.54,343.18 782.04,348.19 783.55,333.14 785.05,315.59 786.05,323.11 787.56,310.57 789.06,299.28 790.57,301.79 792.07,323.11 793.08,330.13 794.08,313.08 795.08,318.09 796.59,315.59 798.09,310.57 799.60,328.13 800.78,353.25 801.10,355.72"/><polyline points="804.62,355.72 805.22,353.25 806.12,335.65 807.63,318.09 809.13,315.59 810.13,305.55 811.64,315.59 813.14,330.64 814.15,331.89 815.15,348.19 816.66,345.69 818.16,353.21 818.32,353.25 819.67,355.72"/><polyline points="819.67,355.72 820.53,353.25 821.17,348.19 822.17,341.92 822.58,353.25 823.18,355.72"/><polyline points="856.29,355.72 857.01,353.25 857.79,330.64 859.30,300.54 860.80,272.94 861.81,264.16 863.31,262.91 864.82,240.33 866.32,230.80 867.83,242.84 869.33,234.06 870.33,232.81 871.34,246.61 872.34,239.08 873.85,226.54 874.85,245.35 875.85,249.11 876.86,272.94 878.36,284.23 879.87,276.71 881.37,277.96 882.88,300.54 884.38,315.59 885.89,301.79 887.39,320.60 888.90,339.41 889.90,310.57 891.40,340.67 892.91,334.40 893.91,348.19 894.03,353.25 894.92,355.72"/><polyline points="895.92,355.72 895.81,353.25 896.92,348.19 897.25,353.25 897.93,355.72"/><polyline points="901.94,355.72 903.44,344.43 904.45,355.72"/><polyline points="975.18,355.72 975.69,353.25 976.69,340.67 977.69,334.40 978.70,345.69 980.20,340.67 981.71,333.14 983.21,301.79 984.72,300.54 985.72,320.60 987.22,343.18 988.02,353.25 988.73,355.72"/></g><g clip-path="url(#t6)"><polyline points="800.10,350.00 800.78,353.25 801.61,360.03 803.11,378.85 804.62,360.03 805.22,353.25 806.12,350.00"/><polyline points="817.16,350.00 818.32,353.25 818.66,353.76 820.17,356.27 820.53,353.25 821.67,350.00"/><polyline points="821.67,350.00 822.58,353.25 823.18,360.03 824.68,392.64 826.19,417.73 827.69,422.74 829.20,417.73 830.70,435.28 832.21,444.06 833.71,452.84 835.22,432.78 836.72,411.45 838.23,432.78 839.73,435.28 841.24,418.98 842.74,416.47 844.25,435.28 845.75,430.27 847.26,412.71 848.76,407.69 850.27,387.63 851.77,372.58 853.28,368.81 855.28,387.63 856.79,365.05 857.01,353.25 857.79,350.00"/><polyline points="892.91,350.00 894.03,353.25 894.41,358.78 895.81,353.25 895.92,350.00"/><polyline points="895.92,350.00 897.25,353.25 897.42,355.02 898.43,376.34 899.93,362.54 901.44,367.56 902.94,355.02 904.45,365.05 905.95,380.10 907.46,365.05 908.96,385.12 910.47,397.66 911.97,405.18 913.48,432.78 914.98,467.89 916.49,499.25 917.99,510.54 919.50,540.64 920.07,553.25 921.00,565.72"/><polyline points="948.60,565.72 949.45,553.25 950.10,510.54 951.10,500.50 952.61,475.42 954.11,440.30 955.12,425.25 956.62,432.78 958.13,449.08 959.63,455.35 961.14,422.74 963.14,413.96 964.65,408.95 966.15,401.42 967.66,380.10 969.16,372.58 970.17,395.15 971.67,371.32 973.18,391.39 974.68,370.07 975.69,353.25 976.19,350.00"/><polyline points="987.22,350.00 988.02,353.25 988.73,362.54 990.23,372.58 991.74,383.86 993.24,373.83 994.75,371.32 996.25,373.83 997.76,363.80 999.26,370.07 1000.77,382.61 1002.27,390.13 1003.78,402.68 1005.28,403.93 1006.79,415.22 1008.29,417.73 1009.80,425.25 1011.30,432.78 1012.81,440.30 1014.31,442.81 1015.82,455.35 1017.32,467.89 1018.83,497.99 1020.33,525.59 1021.84,528.09 1023.34,513.04 1024.85,510.54 1026.35,500.50 1027.86,490.47 1029.36,475.42 1030.87,460.37 1032.37,446.57 1033.88,445.32 1035.38,450.33 1036.89,447.83 1038.39,455.35 1039.90,457.86 1041.40,447.83 1042.91,440.30 1044.41,435.28 1045.92,432.78 1047.42,449.08 1048.93,455.35 1050.43,462.88 1051.94,469.15 1053.44,460.37 1054.95,440.30 1055.95,412.71 1057.46,382.61 1058.96,371.32 1060.47,370.07 1061.97,376.34 1062.98,372.58 1064.48,390.13 1065.99,400.17 1067.49,417.73 1069.00,408.95 1070.50,422.74 1072.01,415.22 1073.51,403.93 1075.02,420.23 1076.52,432.78 1078.03,442.81 1079.53,447.83 1081.04,449.08 1082.54,432.78 1084.05,407.69 1085.55,387.63 1087.06,403.93 1088.56,407.69 1090.07,415.22 1091.57,430.27 1093.08,440.30 1094.58,436.54 1096.09,415.22 1097.59,413.96 1099.10,429.01 1100.60,445.32 1102.11,450.33 1103.61,465.38 1105.12,479.18 1106.62,464.13 1108.13,481.69 1109.63,462.88 1111.14,445.32 1112.64,431.52 1114.15,447.83 1115.65,465.38 1117.16,490.47 1118.66,506.77 1120.17,505.52 1121.67,496.74 1123.18,492.98 1124.68,475.42 1126.19,474.16 1127.69,486.71 1129.20,482.94 1130.70,492.98 1132.21,494.23 1132.25,492.30 1133.71,475.42 1135.22,445.32 1136.72,442.81 1138.23,420.23 1139.73,410.20 1141.24,397.66 1142.74,386.37 1144.25,387.63 1145.00,407.69"/></g><g clip-path="url(#t7)"><polyline points="919.00,540.00 920.07,553.25 920.00,555.05 921.00,577.63 922.01,576.37 923.51,572.61 924.52,585.15 926.02,597.69 927.02,615.25 928.03,641.59 929.53,617.76 930.54,640.33 931.54,635.32 932.54,631.56 934.05,640.33 935.55,649.11 936.56,650.37 937.56,670.43 938.06,681.72 939.06,672.94 940.07,657.89 941.07,647.86 942.07,664.16 943.08,650.37 944.58,635.32 946.09,615.25 947.59,595.18 949.10,572.61 949.45,553.25 950.10,550.03 950.60,540.00"/></g><g clip-path="url(#t8)"><polyline points="1170.17,355.72 1170.81,353.25 1171.67,345.69 1173.18,340.67 1174.68,344.43 1176.10,353.25 1176.19,355.72"/><polyline points="1176.19,355.72 1177.69,338.16 1179.65,353.25 1179.20,355.72"/><polyline points="1179.20,355.72 1179.75,353.25 1180.70,334.40 1181.71,355.72"/><polyline points="1187.22,355.72 1188.02,353.25 1188.73,345.69 1190.23,340.67 1191.74,348.19 1193.24,338.16 1194.75,335.65 1196.25,339.41 1197.76,336.91 1199.26,345.69 1200.77,310.57 1202.27,330.64 1202.84,353.25 1203.78,355.72"/><polyline points="1216.82,355.72 1217.74,353.25 1218.33,346.94 1219.83,346.19 1220.63,353.25 1221.34,355.72"/></g><g clip-path="url(#t9)"><polyline points="1120.00,503.01 1120.75,500.50 1121.51,492.98 1123.01,486.71 1124.52,477.93 1126.02,474.16 1127.53,482.94 1129.03,485.45 1130.54,492.98 1132.04,494.23 1132.25,492.30 1133.55,470.40 1135.05,447.83 1136.56,444.06 1138.06,425.25 1139.57,410.20 1141.07,403.93 1142.58,386.37 1144.08,402.68 1145.59,390.13 1147.09,381.35 1148.60,395.15 1150.10,385.12 1151.61,375.08 1153.11,372.58 1154.62,366.30 1156.12,370.07 1157.63,365.05 1159.13,377.59 1160.64,401.42 1162.14,392.64 1163.65,381.35 1165.15,377.59 1166.66,378.85 1168.16,376.34 1169.67,365.05 1170.81,353.25 1171.17,352.51 1172.68,350.00"/><polyline points="1175.69,350.00 1176.10,353.25 1177.19,357.53 1178.70,366.30 1179.75,353.25 1180.20,352.51 1179.65,353.25 1181.71,362.54 1183.21,372.58 1184.72,367.56 1185.72,388.88 1187.22,367.56 1188.02,353.25 1188.73,350.00"/><polyline points="1201.77,350.00 1202.84,353.25 1203.28,367.56 1204.78,392.64 1206.29,407.69 1207.79,400.17 1209.30,398.91 1210.80,400.17 1212.31,392.64 1213.81,396.40 1215.32,387.63 1216.82,365.05 1217.74,353.25 1218.33,352.51 1219.83,350.00"/><polyline points="1219.83,350.00 1220.63,353.25 1221.34,360.03 1222.84,400.17 1224.35,425.25 1225.85,416.47 1227.36,436.54 1228.36,432.78 1229.87,449.08 1231.37,432.78 1232.88,415.22 1234.38,420.23 1235.89,408.95 1237.39,402.68 1238.39,401.42 1239.90,415.22 1241.40,425.25 1242.91,442.81 1244.41,440.30 1245.92,457.86 1247.42,480.43 1248.93,485.45 1249.93,500.50 1250.94,525.59 1252.44,553.18 1253.95,540.64 1255.45,530.60 1256.96,523.08 1257.96,510.54 1258.96,501.76 1259.97,520.57 1260.97,506.77 1262.47,505.52 1263.48,523.08 1264.98,520.57 1266.49,528.09 1267.99,545.65 1268.42,553.25 1269.50,565.72"/><polyline points="1273.51,565.72 1274.91,553.25 1275.02,543.14 1276.52,540.64 1278.03,535.62 1279.53,535.62 1281.04,529.35 1282.54,530.60 1284.05,520.57 1285.55,510.54 1287.06,508.03 1288.56,523.08 1290.07,540.64 1291.57,528.09 1293.08,531.86 1294.58,535.62 1296.09,550.67 1296.11,553.25 1297.59,565.72"/><polyline points="1305.62,565.72 1307.12,559.45 1308.13,565.72"/><polyline points="1315.65,565.72 1316.66,560.70 1317.66,565.72"/><polyline points="1322.17,565.72 1323.54,553.25 1323.68,550.67 1324.68,548.16 1324.85,553.25 1325.69,560.70 1326.62,553.25 1327.19,543.14 1328.70,530.60 1330.20,520.57 1331.71,515.55 1333.21,500.50 1334.72,480.43 1336.22,477.93 1337.22,482.94 1338.23,456.61 1339.23,475.42 1340.23,470.40 1341.74,477.93 1343.24,486.71 1344.75,462.88 1346.25,456.61 1347.26,455.35 1348.76,475.42 1349.77,487.96 1350.77,475.42 1352.27,462.88 1353.78,450.33 1355.28,437.79 1356.29,429.01 1357.79,437.79 1359.30,446.57 1360.80,455.35 1362.31,467.89 1363.81,486.71 1364.82,489.21 1366.32,467.89 1367.83,442.81 1369.33,462.88 1370.84,444.06 1372.34,441.56 1373.85,447.83 1375.35,450.33 1376.35,467.89 1377.86,490.47 1378.86,500.50 1380.37,520.57 1381.87,540.64 1382.73,553.25 1383.13,554.43 1383.88,565.72"/></g><g clip-path="url(#t10)"><polyline points="1250.43,540.00 1251.94,553.80 1253.44,545.02 1254.45,540.00"/><polyline points="1267.49,540.00 1268.42,553.25 1269.00,565.08 1270.50,597.69 1272.01,608.23 1273.51,590.17 1275.02,560.07 1274.91,553.25 1276.02,545.02 1277.02,540.00"/><polyline points="1288.56,540.00 1289.57,542.51 1290.57,540.00"/><polyline points="1295.08,540.00 1296.11,553.25 1296.59,565.08 1298.09,587.66 1299.60,602.71 1301.10,586.40 1302.61,597.69 1304.11,580.13 1305.62,567.59 1307.12,558.81 1308.63,590.17 1310.13,608.23 1311.64,582.64 1313.14,596.44 1314.65,572.61 1316.66,560.07 1318.16,593.93 1319.67,582.64 1321.17,586.40 1322.68,563.83 1323.54,553.25 1324.18,547.53 1324.85,553.25 1325.69,567.59 1326.62,553.25 1327.19,550.03 1328.70,540.00"/><polyline points="1380.87,540.00 1382.37,552.54 1382.73,553.25 1382.88,558.81 1383.63,554.55 1384.38,565.08 1385.38,572.61 1386.89,590.17 1388.39,592.68 1389.90,587.66 1391.40,600.20 1392.91,593.93 1393.91,580.13 1394.92,601.45 1395.92,590.17 1395.92,605.22"/></g></g></g>
<g fill="none" stroke="#2b2b2b" stroke-width="2" stroke-linejoin="round" stroke-linecap="round"><g clip-path="url(#t0)"><polyline points="89.70,355.72 91.62,353.25 92.71,348.19 94.72,342.68 95.72,315.59 96.72,300.54 97.73,298.03 98.73,306.81 99.73,293.01 101.24,290.50 102.24,293.51 103.24,285.48 104.75,287.99 106.25,270.43 107.76,269.18 109.26,250.37 111.27,240.84 112.27,250.37 113.78,280.47 115.28,279.21 116.79,293.01 118.29,298.03 119.55,305.55 120.80,282.98 121.81,286.74 123.06,275.45 124.06,285.48 125.82,284.23 127.83,270.43 129.83,252.88 131.84,240.33 132.84,241.59 134.60,224.03 135.85,227.79 137.11,249.11 138.36,239.08 139.87,236.57 141.87,236.57 143.38,239.08 144.88,250.37 146.39,254.13 148.65,269.18 150.40,250.37 152.41,244.10 153.91,236.57 155.92,234.06 157.93,233.31 159.43,239.08 160.94,234.82 162.44,239.08 163.95,246.61 165.45,236.57 167.46,229.05 168.96,227.79 170.72,214.00 172.47,215.25 173.98,216.51 175.48,225.28 176.99,237.83 177.99,249.11 179.50,246.61 181.00,259.15 182.51,270.43 185.02,282.98 186.52,260.40 188.03,254.13 189.53,256.64 191.04,240.33 193.04,245.35 194.55,241.59 195.55,260.40 196.56,241.59 198.56,244.10 200.57,235.32 202.07,239.08 203.08,247.86 204.08,249.11 205.08,267.93 206.09,279.21 208.09,279.21 209.10,295.52 210.60,305.55 212.11,320.60 213.61,334.40 214.02,353.25 214.62,355.72"/><polyline points="215.62,355.72 216.01,353.25 218.63,344.43 221.14,342.68 222.12,353.25 222.64,355.72"/><polyline points="228.16,355.72 229.16,353.25 230.67,344.43 231.46,353.25 232.17,355.72"/><polyline points="241.20,355.72 241.61,353.25 243.21,334.40 245.22,338.16 246.72,350.70 247.05,353.25 248.23,355.72"/><polyline points="292.12,355.72 292.76,353.25 293.88,340.67 297.39,324.36 299.40,333.14 302.41,350.20 304.41,330.64 306.42,313.08 307.93,308.06 308.93,299.28 310.43,303.04 311.94,309.31 313.44,290.50 314.95,294.26 316.45,300.54 318.46,308.06 319.97,296.77 321.97,281.72 324.98,280.97 326.49,290.50 327.49,283.48 329.00,295.02 330.50,283.48 332.01,284.23 333.51,294.26 335.02,292.51 336.52,285.48 338.53,277.96 340.03,275.45 341.79,264.67 342.79,280.47 343.80,296.77 345.55,300.54 347.06,306.81 348.56,304.30 349.82,305.55 351.57,290.50 353.58,291.76 355.08,287.99 356.59,293.01 358.09,315.59 359.35,333.65 361.10,306.81 362.61,318.09 364.62,316.84 366.12,325.62 367.63,330.64 369.13,320.60 370.64,290.50 372.64,287.99 374.65,274.20 376.15,256.64 376.91,250.37 378.16,257.89 379.67,254.13 381.17,252.88 382.68,241.59 384.18,247.86 385.69,240.33 387.19,224.03 388.70,222.78 390.70,220.27 392.71,204.72 394.21,215.25 395.72,225.79 397.73,225.28 398.73,217.26 399.98,227.79 401.24,235.32 402.74,222.78 402.75,222.06 405.00,220.27"/></g><g clip-path="url(#t1)"><polyline points="81.92,410.95 81.92,392.64 83.68,380.10 85.18,378.85 87.19,388.13 88.70,375.08 90.20,356.27 91.71,357.53 91.62,353.25 93.21,350.00"/><polyline points="212.61,350.00 214.02,353.25 214.62,357.02 216.01,353.25 216.12,352.01 217.63,373.83 219.63,358.78 221.64,351.25 222.12,353.25 223.14,363.80 224.90,375.08 226.91,361.29 228.66,357.02 229.16,353.25 230.42,350.00"/><polyline points="230.42,350.00 231.46,353.25 231.42,355.02 233.18,368.81 234.68,380.10 236.19,385.12 237.69,365.05 239.20,357.53 240.70,361.29 241.61,353.25 242.21,350.00"/><polyline points="246.22,350.00 247.05,353.25 248.23,366.30 250.23,368.81 251.74,400.17 253.75,377.59 255.25,375.08 256.76,398.91 258.26,375.08 260.27,367.56 261.77,377.59 263.28,383.86 264.78,375.08 266.29,372.58 267.79,381.35 269.80,380.10 271.30,386.37 272.81,381.35 274.31,380.10 275.82,387.63 277.32,390.13 278.83,395.15 280.33,401.42 281.84,398.91 283.34,411.45 284.85,390.13 285.85,416.47 287.36,393.90 289.87,380.10 291.87,367.56 292.76,353.25 293.38,350.00"/></g><g clip-path="url(#t3)"><polyline points="400.00,235.32 401.51,226.54 402.75,222.06 403.01,220.27 404.52,222.78 406.02,224.03 407.53,216.51 409.03,215.25 410.54,222.78 412.54,225.28 414.05,212.74 415.55,198.19 417.06,204.72 418.56,208.98 420.07,210.23 421.57,207.22 423.08,212.74 424.58,227.79 426.09,230.30 427.09,244.10 428.60,231.56 430.10,236.57 431.61,245.35 433.11,241.59 434.62,234.82 436.12,258.39 437.63,251.62 439.13,240.33 440.64,240.33 442.64,243.34 444.15,250.37 445.65,284.23 447.16,276.71 448.66,275.45 450.17,276.71 451.67,293.01 453.18,285.48 454.68,277.96 456.19,295.52 457.69,284.23 459.20,287.99 460.70,298.03 462.71,295.52 464.21,293.01 465.72,284.23 467.22,282.98 468.23,275.45 470.23,274.20 472.24,275.45 473.75,290.50 475.25,298.03 476.76,293.01 478.26,291.76 479.77,298.03 481.77,304.30 483.28,315.59 485.28,326.87 487.29,325.62 489.30,324.36 490.80,313.08 492.31,319.35 493.81,316.84 495.32,318.60 496.82,323.11 498.33,325.62 499.83,333.14 500.84,343.18 501.60,353.25 501.84,355.72"/><polyline points="507.86,355.72 509.95,353.25 511.37,350.70 513.38,346.94 514.88,351.96 515.33,353.25 515.89,355.72"/><polyline points="515.89,355.72 516.50,353.25 516.89,330.64 518.39,325.62 520.40,315.59 521.91,311.82 523.91,311.07 525.42,315.59 526.92,321.86 528.43,323.11 529.93,313.08 530.94,309.31 532.44,320.60 533.95,334.40 535.45,338.16 536.96,346.94 537.68,353.25 538.46,355.72"/><polyline points="538.46,355.72 539.43,353.25 539.97,353.21 540.97,345.69 541.17,353.25 542.47,355.72"/><polyline points="542.47,355.72 542.23,353.25 543.98,343.18 545.48,315.59 547.49,310.57 549.00,315.59 550.50,330.64 552.01,343.18 553.51,348.19 555.02,340.67 556.52,325.62 558.03,338.16 559.53,345.69 561.04,351.96 562.54,343.18 564.55,333.14 566.05,328.13 567.56,325.62 569.06,330.64 570.57,325.62 572.07,320.60 573.58,313.08 575.08,310.57 576.59,305.55 578.09,295.52 580.10,291.76 581.61,294.26 583.11,300.54 584.62,299.28 586.62,296.77 588.13,305.55 589.63,315.59 591.14,319.35 592.64,321.86 594.15,330.64 595.65,340.67 597.16,333.14 598.66,338.16 600.17,334.40 601.67,338.16 603.18,330.64 604.68,328.13 606.19,331.89 607.69,338.16 609.20,340.67 610.70,338.16 612.21,350.70 613.71,340.67 615.22,348.19 616.72,351.96 618.23,346.94 620.10,353.25 619.73,354.46 619.15,353.25 621.24,340.67 622.81,353.25 622.74,355.72"/></g><g clip-path="url(#t4)"><polyline points="501.34,350.00 501.60,353.25 502.84,373.08 504.85,361.29 507.36,358.78 509.36,355.02 509.95,353.25 511.37,351.25 513.38,353.76 514.88,350.00"/><polyline points="514.88,350.00 515.33,353.25 516.39,358.78 516.50,353.25 517.39,350.00"/><polyline points="536.96,350.00 537.68,353.25 537.96,358.78 539.43,353.25 539.46,350.00"/><polyline points="539.46,350.00 541.17,353.25 540.97,356.27 542.23,353.25 542.47,350.00"/><polyline points="550.50,350.00 551.51,351.51 552.51,350.00"/><polyline points="560.54,350.00 561.54,352.51 562.54,350.00"/><polyline points="612.71,350.00 615.72,351.25 618.23,353.76 619.15,353.25 619.73,350.00"/><polyline points="619.73,350.00 620.10,353.25 621.24,355.02 622.74,350.00"/><polyline points="622.74,350.00 622.81,353.25 624.25,362.54 625.75,368.81 627.26,385.12 628.26,407.69 629.77,412.71 630.77,424.75 632.78,420.23 634.28,407.69 635.28,403.18 636.79,411.45 638.29,410.20 639.80,422.74 641.30,412.71 642.81,420.23 644.31,411.45 645.82,417.73 647.32,421.49 648.83,426.51 650.33,417.73 651.84,403.93 653.34,398.91 654.85,416.47 656.35,415.22 657.86,416.47 659.36,403.93 660.87,402.68 662.37,407.69 663.88,415.22 665.38,425.25 666.89,442.81 668.39,467.89 669.40,490.47 670.90,492.98 672.41,510.54 673.41,518.06 674.92,536.87 675.92,515.55 677.42,514.30 678.93,523.08 680.43,509.28 682.44,504.26 683.95,510.54 685.45,515.55 686.96,523.08 688.46,525.59 689.97,531.86 691.47,533.11 692.98,525.59 694.48,515.55 695.99,506.77 697.49,500.50 699.00,500.00 700.50,513.04 701.51,523.08 703.01,531.86 704.52,520.57 706.02,510.54 707.53,508.03 708.53,500.50 710.03,482.94 711.54,480.43 713.04,484.20 714.55,489.21 716.05,492.98 717.56,505.52 719.06,506.77 720.57,475.42 722.07,474.92 723.58,477.93 725.08,481.69 726.59,485.45 728.09,487.96 729.60,485.45 731.10,484.20 732.61,481.69 734.11,476.67 735.62,480.43 737.12,472.91 738.63,470.40 740.13,469.15 741.64,471.66 743.14,475.42 744.65,480.43 746.15,490.47 747.16,511.79 748.66,503.01 750.17,501.76 751.67,503.01 753.18,501.76 754.68,504.26 756.19,520.57 757.69,523.08 758.70,528.09 760.20,520.57 761.71,524.33 763.21,523.08 764.72,525.59 766.22,524.33 767.73,538.13 769.23,533.11 770.74,510.54 772.24,497.99 773.75,495.48 775.00,491.72"/></g><g clip-path="url(#t6)"><polyline points="770.00,530.60 771.51,508.03 773.01,500.50 774.52,494.23 776.02,513.04 777.53,523.08 779.03,525.59 780.54,520.57 782.04,530.60 783.55,534.36 785.05,543.14 786.56,530.60 788.06,536.87 789.57,535.62 791.07,533.11 792.58,535.62 794.08,530.60 795.59,529.35 797.09,534.36 798.60,529.35 800.10,520.57 801.61,519.31 803.11,525.59 804.62,530.60 806.12,529.35 807.63,533.11 809.13,535.62 810.64,534.36 812.14,530.60 813.65,535.62 815.15,529.35 816.66,533.11 818.16,535.62 819.67,533.11 821.17,534.36 822.68,529.35 824.18,530.60 825.69,520.57 827.19,513.04 828.70,518.06 830.20,511.79 831.71,514.30 833.21,515.55 834.72,520.57 836.22,509.28 837.73,506.77 839.23,508.03 840.74,515.55 841.74,545.65 842.08,553.25 842.74,565.72"/><polyline points="866.32,565.72 868.33,564.46 870.33,565.22 872.34,563.21 874.35,565.22 876.35,563.21 878.36,564.46 880.37,560.70 881.87,555.69 883.38,554.43 884.88,560.70 885.89,565.72"/><polyline points="911.97,565.72 913.98,563.21 915.48,559.45 916.33,553.25 916.99,548.16 918.49,525.59 920.00,511.79 921.51,508.03 923.01,513.04 924.52,510.54 926.02,495.48 927.53,487.96 929.03,487.96 930.54,486.71 932.04,487.96 933.55,484.20 935.05,486.71 936.56,484.20 938.06,477.93 939.57,482.94 941.07,477.93 942.58,480.43 944.08,481.69 945.59,487.96 947.09,482.94 948.60,486.71 950.10,497.99 951.61,500.50 953.11,500.50 954.62,499.25 956.12,480.43 957.63,472.91 959.13,469.15 960.64,467.89 962.64,466.64 964.15,470.40 965.65,472.91 967.16,474.16 968.66,481.69 970.17,479.18 971.67,482.94 973.18,480.43 974.68,479.18 976.19,490.47 977.69,492.98 979.20,491.72 980.70,495.48 982.21,510.54 983.71,520.57 985.22,515.55 986.72,490.47 988.23,470.40 989.73,466.64 991.24,457.86 992.74,437.79 994.25,435.28 995.75,431.52 997.26,436.54 998.76,430.27 1000.27,437.79 1001.77,432.78 1003.28,436.54 1004.78,440.30 1006.29,431.52 1007.79,430.27 1009.30,429.01 1010.80,430.27 1012.31,432.78 1013.81,431.52 1015.32,434.03 1016.82,430.27 1018.33,427.76 1019.83,417.73 1021.34,415.22 1022.84,411.45 1024.35,410.20 1025.85,411.45 1027.36,412.71 1028.36,418.98 1029.36,411.45 1030.87,425.25 1032.37,430.27 1033.88,439.05 1035.38,436.54 1036.89,437.79 1038.39,430.27 1039.90,422.74 1041.40,418.98 1042.91,420.23 1044.41,432.78 1045.92,425.25 1047.42,422.74 1048.93,420.23 1050.43,424.00 1051.94,430.27 1053.44,435.28 1054.95,436.54 1056.45,440.30 1057.96,444.06 1059.46,442.81 1060.97,441.56 1062.47,440.30 1063.98,444.06 1065.48,441.56 1066.99,444.06 1068.49,442.81 1070.00,441.56 1071.51,447.83 1073.01,445.32 1074.52,442.81 1076.02,435.28 1077.53,434.03 1079.03,445.32 1080.54,440.30 1082.04,442.81 1083.55,441.56 1085.05,450.33 1086.56,444.06 1088.06,441.56 1089.57,449.08 1091.07,447.83 1092.58,452.84 1094.08,451.59 1095.59,454.10 1097.09,460.37 1098.60,450.33 1100.10,449.08 1101.61,445.32 1103.11,430.27 1104.62,413.96 1106.12,411.45 1107.63,408.95 1109.13,410.20 1110.64,408.95 1112.14,412.71 1113.65,410.20 1115.15,408.95 1116.66,407.69 1118.16,405.18 1119.67,406.44 1121.17,411.45 1122.68,413.96 1124.18,411.45 1125.69,412.71 1127.19,410.20 1128.70,408.95 1130.20,402.68 1131.71,410.20 1132.25,410.72 1133.21,411.45 1134.72,412.71 1136.22,413.96 1137.73,415.22 1139.23,416.47 1140.74,415.22 1142.24,417.73 1143.75,421.49 1145.00,421.49"/></g><g clip-path="url(#t7)"><polyline points="841.74,540.00 842.08,553.25 842.74,585.15 843.75,557.56 845.25,563.83 846.76,570.10 847.76,577.63 849.26,570.10 850.77,571.35 852.27,572.61 853.78,570.10 855.28,577.63 856.79,586.40 858.29,575.12 859.80,572.61 861.30,573.86 862.81,576.37 864.31,577.63 865.82,578.88 867.32,563.83 868.83,566.34 870.33,563.83 871.84,566.34 873.34,563.83 874.85,565.08 876.35,568.85 877.86,562.58 879.36,563.83 880.87,562.58 882.37,553.80 883.88,553.80 885.38,565.08 886.89,572.61 888.39,568.85 889.90,575.12 891.40,568.85 892.91,568.85 894.41,568.85 895.92,567.59 897.42,568.85 898.93,571.35 900.43,572.61 901.94,572.61 903.44,573.86 904.95,572.11 906.45,571.35 907.96,569.60 909.46,568.09 910.97,567.09 912.47,565.08 913.98,562.58 915.48,557.56 916.33,553.25 916.99,550.03 917.99,540.00"/></g><g clip-path="url(#t8)"><polyline points="1270.00,355.72 1272.01,355.22 1273.51,355.72 1275.52,354.46 1276.48,353.25 1276.52,351.96 1277.00,353.25 1277.53,355.72 1279.53,355.22 1281.54,354.46 1283.55,355.22 1285.55,354.46 1287.56,353.21 1289.57,354.72 1291.57,353.25 1291.57,353.21 1293.58,352.71 1295.08,345.69 1296.59,340.67 1298.09,333.14 1299.60,313.08 1301.10,311.82 1302.61,315.59 1304.11,311.82 1305.62,315.59 1307.12,329.38 1308.63,325.62 1310.13,319.35 1311.64,323.11 1313.14,328.13 1314.65,324.36 1316.15,319.35 1317.66,315.59 1319.16,313.08 1320.67,312.58 1322.17,315.59 1323.68,319.35 1325.18,315.59 1326.69,321.86 1328.19,324.36 1329.70,323.11 1331.20,313.08 1332.71,306.81 1334.21,319.35 1335.72,310.57 1337.22,313.08 1338.73,300.54 1340.23,295.52 1341.74,296.77 1343.24,298.03 1344.75,318.09 1346.25,325.62 1347.76,319.35 1349.26,318.09 1350.77,326.87 1352.27,328.13 1353.78,326.87 1355.28,335.65 1356.29,341.92 1357.79,339.41 1359.30,338.16 1360.80,325.62 1362.31,324.36 1363.81,318.09 1365.32,316.84 1366.82,320.60 1368.33,318.09 1369.83,319.35 1371.34,320.60 1372.84,319.35 1374.35,313.08 1375.85,300.54 1377.36,290.50 1378.86,285.48 1380.37,277.96 1381.87,270.43 1383.38,267.42 1385.38,266.67 1386.89,268.43 1388.39,266.67 1389.90,267.93 1391.40,270.43 1392.91,272.94 1394.41,274.20 1395.42,270.43 1395.92,257.89"/></g><g clip-path="url(#t9)"><polyline points="1120.00,411.45 1121.51,413.96 1123.01,412.71 1124.52,411.45 1126.02,410.20 1127.53,411.45 1129.03,408.95 1130.54,402.17 1131.54,410.20 1132.25,410.72 1133.04,411.45 1134.55,412.71 1136.05,413.96 1137.56,415.72 1139.06,416.47 1140.57,415.22 1142.07,413.96 1143.08,421.49 1144.58,421.49 1146.09,420.74 1147.59,421.49 1149.10,420.23 1150.60,421.49 1152.11,417.73 1153.61,421.49 1155.12,421.49 1156.62,422.74 1158.13,423.24 1159.63,420.23 1161.14,417.22 1162.64,418.98 1164.15,420.23 1165.65,419.73 1167.16,420.23 1168.66,421.49 1170.17,427.76 1171.17,442.81 1172.17,451.59 1173.68,452.34 1175.18,450.33 1176.69,452.34 1178.19,449.08 1179.70,452.84 1181.20,451.59 1182.71,452.84 1184.21,442.81 1185.72,436.54 1187.22,447.83 1188.73,454.10 1190.23,452.84 1191.74,454.85 1193.24,452.84 1194.75,455.35 1196.25,450.33 1197.76,454.10 1199.26,456.61 1200.77,461.62 1201.77,452.84 1203.28,449.08 1204.78,446.57 1206.29,445.32 1207.79,447.83 1209.30,444.06 1210.30,440.30 1211.81,446.57 1213.31,445.32 1214.82,449.08 1216.32,450.33 1217.83,450.33 1219.33,447.83 1220.84,442.81 1222.34,444.06 1223.85,436.54 1225.35,435.28 1226.86,437.79 1228.36,436.54 1229.87,434.03 1231.37,432.78 1232.88,437.79 1234.38,442.81 1235.89,444.82 1237.39,445.32 1238.90,444.06 1240.40,440.30 1241.91,430.27 1243.41,427.76 1244.92,422.74 1246.42,416.47 1247.93,413.96 1248.93,400.17 1249.93,387.63 1251.44,378.85 1252.94,381.35 1254.45,377.59 1255.95,376.34 1257.46,375.08 1258.96,371.32 1260.47,375.08 1261.97,372.58 1263.48,373.83 1264.98,371.32 1266.49,370.07 1267.99,367.56 1269.50,361.29 1271.00,357.53 1272.51,360.03 1274.01,362.54 1275.02,368.81 1276.02,363.80 1276.48,353.25 1277.02,352.51 1277.00,353.25 1278.53,362.54 1280.03,357.53 1281.54,356.27 1283.04,365.05 1284.55,356.27 1286.05,355.02 1287.56,356.27 1289.06,353.76 1290.57,355.02 1291.57,353.25 1292.07,352.51 1293.58,353.76 1295.08,350.00"/></g></g>
<rect x="1402" y="153" width="2" height="555.5" fill="#222"/>
<text x="33.4" y="817.7" font-size="14.2" fill="#777" textLength="263" lengthAdjust="spacingAndGlyphs">© 2024 Glassnode. All Rights Reserved.</text>
<use href="#logo" stroke="#111" transform="translate(1330,795) scale(0.09699)"/>
</svg></body></html>
